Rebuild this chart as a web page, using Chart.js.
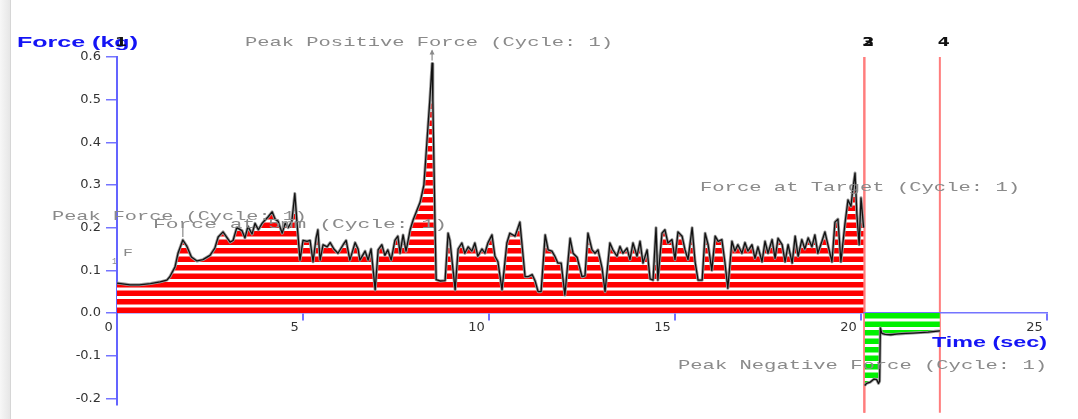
<!DOCTYPE html>
<html>
<head>
<meta charset="utf-8">
<title>Force vs Time</title>
<script src="https://cdn.jsdelivr.net/npm/chart.js@4.4.1/dist/chart.umd.min.js"></script>
<style>
  html, body { margin: 0; padding: 0; background: #fff; overflow: hidden; }
  #wrap { position: relative; width: 1078px; height: 419px; }
  #edge { position: absolute; left: 0; top: 0; width: 10px; height: 419px;
          background: linear-gradient(to right, #f7f7f7, #e6e6e6); border-right: 1px solid #d6d6d6; }
  canvas { position: absolute; left: 0; top: 0; }
</style>
</head>
<body>
<div id="wrap"><div id="edge"></div><canvas id="forceChart" width="1078" height="419"></canvas></div>
<script>
// Time (sec) and force (kg), cycle 1
const posT = [
  0, 0.1, 0.35, 0.6, 0.9, 1.16, 1.34, 1.42, 1.56, 1.64,
  1.77, 1.88, 2.0, 2.15, 2.31, 2.5, 2.63, 2.72, 2.85, 3.04,
  3.12, 3.22, 3.36, 3.44, 3.52, 3.63, 3.71, 3.8, 3.9, 3.98,
  4.06, 4.17, 4.25, 4.33, 4.44, 4.52, 4.6, 4.7, 4.78, 4.84,
  4.92, 5.0, 5.11, 5.19, 5.27, 5.35, 5.4, 5.46, 5.54, 5.65,
  5.73, 5.83, 5.94, 6.08, 6.16, 6.26, 6.4, 6.48, 6.53, 6.67,
  6.75, 6.83, 6.94, 7.02, 7.12, 7.2, 7.28, 7.37, 7.47, 7.55,
  7.61, 7.69, 7.77, 7.88, 7.96, 8.06, 8.15, 8.25, 8.33, 8.41,
  8.47, 8.49, 8.52, 8.55, 8.58, 8.68, 8.82, 8.9, 8.95, 9.09,
  9.17, 9.27, 9.35, 9.44, 9.54, 9.62, 9.7, 9.81, 9.89, 9.97,
  10.08, 10.16, 10.24, 10.35, 10.48, 10.56, 10.7, 10.78, 10.83, 10.97,
  11.05, 11.16, 11.24, 11.32, 11.4, 11.51, 11.59, 11.69, 11.77, 11.85,
  11.94, 12.04, 12.18, 12.26, 12.37, 12.5, 12.58, 12.66, 12.77, 12.85,
  12.93, 13.04, 13.12, 13.25, 13.33, 13.44, 13.52, 13.6, 13.71, 13.79,
  13.87, 13.98, 14.06, 14.14, 14.25, 14.33, 14.41, 14.49, 14.54, 14.65,
  14.73, 14.81, 14.92, 15.0, 15.08, 15.19, 15.27, 15.35, 15.46, 15.54,
  15.62, 15.73, 15.81, 15.89, 15.99, 16.08, 16.16, 16.26, 16.34, 16.42,
  16.53, 16.61, 16.69, 16.8, 16.88, 16.96, 17.07, 17.15, 17.23, 17.34,
  17.42, 17.5, 17.61, 17.69, 17.77, 17.88, 17.96, 18.04, 18.15, 18.23,
  18.31, 18.41, 18.49, 18.58, 18.68, 18.76, 18.84, 18.95, 19.03, 19.11,
  19.22, 19.3, 19.38, 19.46, 19.57, 19.65, 19.73, 19.78, 19.84, 19.89,
  19.95, 20.0, 20.05, 20.07
];
const posF = [
  0.070, 0.069, 0.066, 0.066, 0.069, 0.073, 0.077, 0.085, 0.108, 0.14,
  0.171, 0.156, 0.131, 0.122, 0.125, 0.135, 0.152, 0.178, 0.19, 0.166,
  0.17, 0.2, 0.193, 0.176, 0.203, 0.185, 0.21, 0.195, 0.21, 0.218,
  0.225, 0.237, 0.22, 0.215, 0.187, 0.21, 0.2, 0.215, 0.28, 0.21,
  0.124, 0.17, 0.168, 0.17, 0.12, 0.175, 0.195, 0.124, 0.16, 0.155,
  0.165, 0.15, 0.14, 0.16, 0.17, 0.124, 0.165, 0.15, 0.124, 0.145,
  0.124, 0.15, 0.054, 0.148, 0.16, 0.135, 0.148, 0.124, 0.17, 0.18,
  0.14, 0.183, 0.145, 0.195, 0.218, 0.24, 0.26, 0.3, 0.4, 0.5,
  0.585, 0.5, 0.35, 0.2, 0.078, 0.075, 0.076, 0.187, 0.17, 0.054,
  0.15, 0.164, 0.14, 0.155, 0.145, 0.164, 0.133, 0.15, 0.14, 0.164,
  0.183, 0.133, 0.12, 0.054, 0.164, 0.187, 0.18, 0.2, 0.213, 0.085,
  0.085, 0.09, 0.075, 0.05, 0.05, 0.183, 0.148, 0.145, 0.133, 0.117,
  0.117, 0.042, 0.175, 0.14, 0.13, 0.085, 0.087, 0.187, 0.148, 0.14,
  0.148, 0.105, 0.05, 0.164, 0.148, 0.133, 0.156, 0.14, 0.152, 0.125,
  0.164, 0.133, 0.168, 0.117, 0.148, 0.08, 0.077, 0.2, 0.077, 0.187,
  0.195, 0.164, 0.172, 0.125, 0.19, 0.18, 0.148, 0.125, 0.2, 0.12,
  0.077, 0.077, 0.187, 0.16, 0.1, 0.18, 0.168, 0.172, 0.12, 0.058,
  0.168, 0.145, 0.16, 0.14, 0.165, 0.145, 0.16, 0.128, 0.155, 0.12,
  0.168, 0.14, 0.172, 0.128, 0.175, 0.16, 0.12, 0.16, 0.117, 0.18,
  0.133, 0.172, 0.15, 0.176, 0.155, 0.183, 0.14, 0.168, 0.19, 0.16,
  0.12, 0.213, 0.22, 0.12, 0.21, 0.265, 0.25, 0.29, 0.328, 0.23,
  0.16, 0.27, 0.22, 0.2
];
const negT = [20.1, 20.15, 20.25, 20.35, 20.42, 20.47, 20.5, 20.52, 20.56, 20.65,
              20.8, 21.0, 21.2, 21.4, 21.6, 21.8, 22.0, 22.12];
const negF = [-0.17, -0.165, -0.162, -0.155, -0.156, -0.165, -0.16, -0.035, -0.048, -0.05,
              -0.051, -0.049, -0.048, -0.047, -0.046, -0.045, -0.043, -0.042];

const markerT = [0, 20.09, 20.09, 22.12];
const markerNames = ['1', '2', '3', '4'];
const xTicks = [0, 5, 10, 15, 20, 25];
const yTicks = [-0.2, -0.1, 0, 0.1, 0.2, 0.3, 0.4, 0.5, 0.6];

// striped fills: tile is 17px tall = two stripes
function stripes(color, bandFirst) {
  const tile = document.createElement('canvas');
  tile.width = 4; tile.height = 17;
  const g = tile.getContext('2d');
  g.fillStyle = '#ffffff';
  g.fillRect(0, 0, 4, 17);
  g.fillStyle = color;
  const off = bandFirst ? 0 : 3;
  g.fillRect(0, off, 4, 5.5);
  g.fillRect(0, off + 8.5, 4, 5.5);
  return g.createPattern(tile, 'repeat');
}
const redFill = stripes('#ff0000', false);
const greenFill = stripes('#00f000', true);

const notes = [
  { text: 'Peak Positive Force (Cycle: 1)', left: 245, y: 43, w: 368, size: 13 },
  { text: 'Force at Target (Cycle: 1)', left: 700, y: 188, w: 320, size: 13 },
  { text: 'Peak Force (Cycle: 1)', left: 52, y: 217, w: 255, size: 13 },
  { text: 'Force at 5mm (Cycle: 1)', left: 153, y: 225, w: 294, size: 13 },
  { text: 'Peak Negative Force (Cycle: 1)', left: 678, y: 366, w: 369, size: 13 },
  { text: 'F', left: 123, y: 253, w: 10, size: 10 },
  { text: '1', left: 112, y: 262, w: 5, size: 9 }
];

function stretchText(ctx, text, left, midY, width, font, color) {
  ctx.save();
  ctx.font = font;
  ctx.fillStyle = color;
  ctx.textAlign = 'left';
  ctx.textBaseline = 'middle';
  const sx = width / ctx.measureText(text).width;
  ctx.translate(left, midY);
  ctx.scale(sx, 1);
  ctx.fillText(text, 0, 0);
  ctx.restore();
}

const decor = {
  id: 'decor',
  beforeDraw(chart) {
    const { ctx, chartArea, scales: { x, y } } = chart;
    const y0 = y.getPixelForValue(0);
    redFill.setTransform(new DOMMatrix().translate(0, y0));
    greenFill.setTransform(new DOMMatrix().translate(0, y0));
    ctx.save();
    ctx.strokeStyle = '#ff7d7d';
    ctx.lineWidth = 2;
    markerT.forEach(t => {
      if (t <= x.min) return; // first marker sits under the force axis
      const px = x.getPixelForValue(t);
      ctx.beginPath();
      ctx.moveTo(px, chartArea.top);
      ctx.lineTo(px, chartArea.bottom + 8);
      ctx.stroke();
    });
    ctx.restore();
  },
  afterDraw(chart) {
    const { ctx, scales: { x, y } } = chart;
    notes.forEach(n => stretchText(ctx, n.text, n.left, n.y, n.w,
      n.size + 'px "Liberation Mono", monospace', '#8a8a8a'));

    // little pointers above the peaks
    ctx.save();
    ctx.strokeStyle = '#8a8a8a';
    ctx.fillStyle = '#8a8a8a';
    ctx.lineWidth = 1.2;
    const pk = posF.indexOf(Math.max(...posF));
    let ax = x.getPixelForValue(posT[pk]), ay = y.getPixelForValue(posF[pk]);
    ctx.beginPath(); ctx.moveTo(ax, ay - 3); ctx.lineTo(ax, ay - 13); ctx.stroke();
    ctx.beginPath(); ctx.moveTo(ax - 2.5, ay - 9); ctx.lineTo(ax, ay - 14); ctx.lineTo(ax + 2.5, ay - 9); ctx.fill();
    ax = x.getPixelForValue(posT[10]); ay = y.getPixelForValue(posF[10]);
    ctx.beginPath(); ctx.moveTo(ax, ay - 3); ctx.lineTo(ax, ay - 16); ctx.stroke();
    ctx.restore();

    stretchText(ctx, 'Force (kg)', 17, 43, 121, 'bold 15px "Liberation Sans", Arial', '#1414f5');
    stretchText(ctx, 'Time (sec)', 932, 343, 115, 'bold 15px "Liberation Sans", Arial', '#1414f5');

    markerNames.forEach((m, i) => {
      const px = x.getPixelForValue(markerT[i]) + 4;
      stretchText(ctx, m, px - 6, 43, 12, 'bold 13px "DejaVu Sans"', '#111');
    });
  }
};

const posPts = posT.map((t, i) => ({ x: t, y: posF[i] }));
const negPts = negT.map((t, i) => ({ x: t, y: negF[i] }));
const lineBase = { pointRadius: 0, tension: 0, borderJoinStyle: 'round' };
const axisBlue = '#7474ff';
const tickFont = { family: '"DejaVu Sans", sans-serif', size: 13 };

new Chart(document.getElementById('forceChart'), {
  type: 'line',
  data: {
    datasets: [
      { ...lineBase, data: posPts, fill: 'origin', backgroundColor: redFill, borderColor: '#9c9c9c', borderWidth: 3, order: 4 },
      { ...lineBase, data: posPts, fill: false, borderColor: '#111111', borderWidth: 1.3, order: 3 },
      { ...lineBase, data: negPts, fill: 'origin', backgroundColor: greenFill, borderColor: '#9c9c9c', borderWidth: 3, order: 2 },
      { ...lineBase, data: negPts, fill: false, borderColor: '#111111', borderWidth: 1.3, order: 1 }
    ]
  },
  options: {
    responsive: false,
    animation: false,
    events: [],
    layout: { padding: { left: 0, top: 57, right: 31, bottom: 14.3 } },
    plugins: { legend: { display: false }, tooltip: { enabled: false } },
    scales: {
      x: {
        type: 'linear',
        min: 0,
        max: 25,
        position: { y: 0 },
        afterBuildTicks: s => { s.ticks = xTicks.map(v => ({ value: v })); },
        grid: { drawOnChartArea: false, tickLength: 7, color: axisBlue, lineWidth: 2 },
        border: { color: axisBlue, width: 1.5 },
        ticks: { align: 'end', padding: 0, color: '#333', font: tickFont, maxRotation: 0, autoSkip: false,
                 callback: v => v + ' ' }
      },
      y: {
        min: -0.215,
        max: 0.6,
        afterBuildTicks: s => { s.ticks = yTicks.map(v => ({ value: v })); },
        afterFit: s => { s.width = 117; },
        grid: { drawOnChartArea: false, tickLength: 11, color: axisBlue, lineWidth: 1.5 },
        border: { color: '#6464ff', width: 2 },
        ticks: { padding: 5, color: '#333', font: tickFont, callback: v => v.toFixed(1) }
      }
    }
  },
  plugins: [decor]
});
</script>
</body>
</html>
